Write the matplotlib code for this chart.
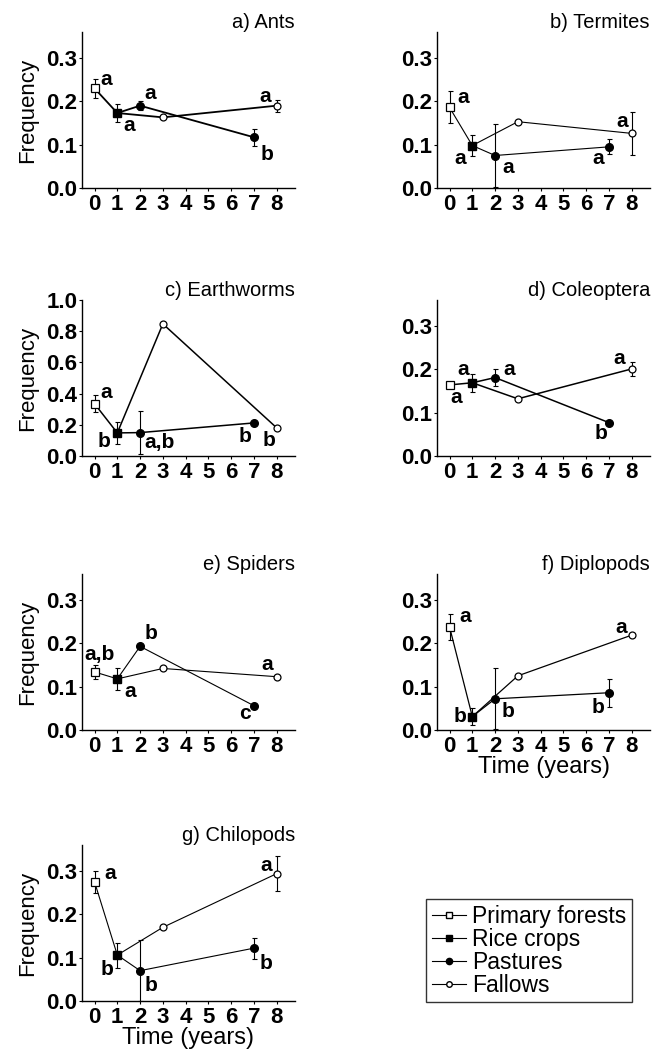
import matplotlib
matplotlib.use('Agg')
import matplotlib.pyplot as plt
from matplotlib.lines import Line2D

plt.rcParams['font.family'] = ['Liberation Sans', 'DejaVu Sans']

# panels
titles = ['a) Ants', 'b) Termites', 'c) Earthworms', 'd) Coleoptera',
          'e) Spiders', 'f) Diplopods', 'g) Chilopods']

# years since clearing for each land use
forest_year = 0
rice_year = 1
pasture_years = [2, 7]
fallow_years = [3, 8]

# mean frequency and error
forest_mean = [0.230, 0.186, 0.335, 0.164, 0.134, 0.238, 0.275]
forest_err = [0.022, 0.037, 0.053, 0.004, 0.016, 0.030, 0.025]
rice_mean = [0.173, 0.098, 0.148, 0.169, 0.118, 0.031, 0.106]
rice_err = [0.020, 0.025, 0.072, 0.021, 0.025, 0.020, 0.029]
pasture_mean = [[0.190, 0.117], [0.075, 0.095], [0.150, 0.212], [0.181, 0.077],
                [0.193, 0.056], [0.072, 0.086], [0.070, 0.122]]
pasture_err = [[0.011, 0.019], [0.072, 0.017], [0.136, 0.0], [0.020, 0.0],
               [0.0, 0.0], [0.070, 0.032], [0.071, 0.024]]
fallow_mean = [[0.163, 0.190], [0.153, 0.126], [0.847, 0.180], [0.132, 0.201],
               [0.142, 0.123], [0.125, 0.219], [0.170, 0.294]]
fallow_err = [[0.0, 0.014], [0.0, 0.049], [0.0, 0.0], [0.0, 0.017],
              [0.0, 0.005], [0.0, 0.004], [0.0, 0.040]]

# significance letters: forest, rice, pasture yr2, pasture yr7, fallow yr8
letters = [['a', 'a', 'a', 'b', 'a'],
           ['a', 'a', 'a', 'a', 'a'],
           ['a', 'b', 'a,b', 'b', 'b'],
           ['a', 'a', 'a', 'b', 'a'],
           ['a,b', 'a', 'b', 'c', 'a'],
           ['a', 'b', 'b', 'b', 'a'],
           ['a', 'b', 'b', 'b', 'a']]
# letter offsets from the point, in pixels
letter_offsets = [
    [(12, 9), (12, -12), (10, 12), (13, -17), (-12, 9)],
    [(14, 10), (-12, -13), (13, -12), (-11, -12), (-10, 12)],
    [(12, 11), (-13, -9), (19, -10), (-9, -14), (-8, -13)],
    [(7, -13), (-9, 13), (14, 8), (-8, -11), (-13, 10)],
    [(5, 17), (13, -13), (11, 13), (-9, -8), (-10, 12)],
    [(16, 10), (-12, 0), (13, -13), (-11, -15), (-11, 8)],
    [(16, 8), (-10, -14), (11, -15), (12, -15), (-11, 8)],
]

legend_labels = ['Primary forests', 'Rice crops', 'Pastures', 'Fallows']

W, H = 665, 1055
fig = plt.figure(figsize=(W / 100, H / 100), dpi=100)

col_x = [82, 437]
row_bottom = [188, 456, 730, 1001]
ax_w, ax_h = 213, 156
line_w = [1.3, 0.8, 1.1, 1.1, 0.8, 0.9, 0.8]

for i in range(7):
    row, col = divmod(i, 2)
    ax = fig.add_axes([col_x[col] / W, 1 - row_bottom[row] / H,
                       ax_w / W, ax_h / H])
    lw = line_w[i]
    f = forest_mean[i]
    r = rice_mean[i]
    p = pasture_mean[i]
    fa = fallow_mean[i]

    ax.plot([forest_year, rice_year], [f, r], color='k', lw=lw, zorder=2)
    ax.plot([rice_year] + pasture_years, [r] + p, color='k', lw=lw, zorder=2)
    ax.plot([rice_year] + fallow_years, [r] + fa, color='k', lw=lw, zorder=2)

    ekw = dict(fmt='none', ecolor='k', elinewidth=0.8, capsize=1.8,
               capthick=0.8, zorder=3)
    ax.errorbar([forest_year], [f], yerr=[forest_err[i]], **ekw)
    ax.errorbar([rice_year], [r], yerr=[rice_err[i]], **ekw)
    ax.errorbar(pasture_years, p, yerr=pasture_err[i], **ekw)
    ax.errorbar(fallow_years, fa, yerr=fallow_err[i], **ekw)

    ax.plot([forest_year], [f], 's', ms=5.5, mfc='white', mec='k', mew=0.9,
            zorder=4)
    ax.plot([rice_year], [r], 's', ms=6, mfc='k', mec='k', zorder=4)
    ax.plot(pasture_years, p, 'o', ms=5.5, mfc='k', mec='k', ls='none',
            zorder=4)
    ax.plot(fallow_years, fa, 'o', ms=5, mfc='white', mec='k', mew=0.9,
            ls='none', zorder=4)

    pts = [(forest_year, f), (rice_year, r), (pasture_years[0], p[0]),
           (pasture_years[1], p[1]), (fallow_years[1], fa[1])]
    for (px, py), txt, off in zip(pts, letters[i], letter_offsets[i]):
        ax.annotate(txt, (px, py), xytext=off, textcoords='offset pixels',
                    ha='center', va='center', fontsize=15, fontweight='bold')

    ax.set_xlim(-0.55, 8.8)
    ax.set_xticks(range(9))
    if i == 2:
        ax.set_ylim(0, 1.0)
        ax.set_yticks([0, 0.2, 0.4, 0.6, 0.8, 1.0])
    else:
        ax.set_ylim(0, 0.36)
        ax.set_yticks([0, 0.1, 0.2, 0.3])
    ax.yaxis.set_major_formatter(plt.FormatStrFormatter('%.1f'))
    ax.spines['top'].set_visible(False)
    ax.spines['right'].set_visible(False)
    ax.spines['left'].set_linewidth(1.0)
    ax.spines['bottom'].set_linewidth(1.0)
    ax.tick_params(axis='both', length=2.5, width=0.8, labelsize=16)
    ax.tick_params(axis='x', pad=2)
    ax.tick_params(axis='y', pad=1)
    for lab in ax.get_xticklabels() + ax.get_yticklabels():
        lab.set_fontweight('bold')
    ax.set_title(titles[i], loc='right', fontsize=14.5, pad=2)
    if col == 0:
        ax.set_ylabel('Frequency', fontsize=16, labelpad=6)
    if i in (5, 6):
        ax.set_xlabel('Time (years)', fontsize=17, labelpad=-1)

handles = [
    Line2D([], [], color='k', lw=0.8, marker='s', ms=4, mfc='white', mec='k'),
    Line2D([], [], color='k', lw=0.8, marker='s', ms=4, mfc='k', mec='k'),
    Line2D([], [], color='k', lw=0.8, marker='o', ms=4.5, mfc='k', mec='k'),
    Line2D([], [], color='k', lw=0.8, marker='o', ms=4, mfc='white', mec='k'),
]
leg = fig.legend(handles, legend_labels, loc='upper left',
                 bbox_to_anchor=(426 / W, 1 - 899 / H), fontsize=16.5,
                 frameon=True, fancybox=False, edgecolor='k',
                 handlelength=1.5, handletextpad=0.25, labelspacing=0.0,
                 borderpad=0.25, borderaxespad=0)
leg.get_frame().set_linewidth(1.0)

fig.savefig('out.png', dpi=100)
